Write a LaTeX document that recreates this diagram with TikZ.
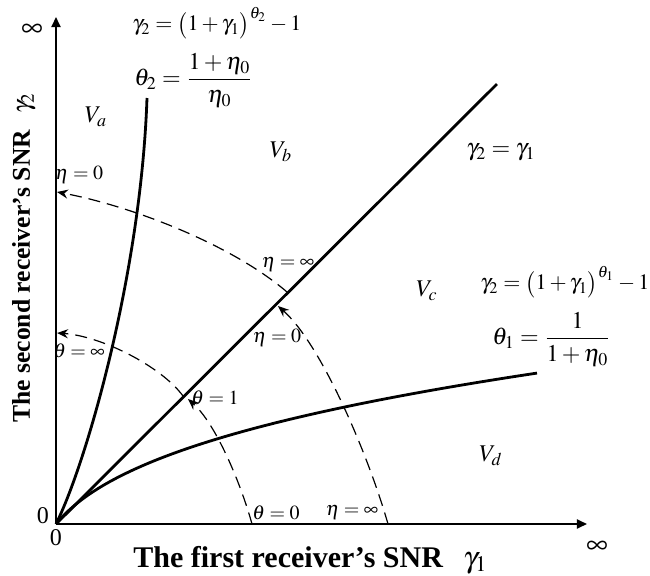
\documentclass[tikz,border=0pt]{standalone}
\usepackage{amsmath}
\usepackage{mathptmx}
\usepackage[no-math]{fontspec}
\setmainfont{Liberation Serif}
\usetikzlibrary{arrows.meta, positioning, calc}

\begin{document}
\begin{tikzpicture}[
    x=0.5pt, y=0.5pt,
    every node/.style={inner sep=1pt},
    axis/.style={line width=0.9pt, -{Triangle[length=5pt,width=4.5pt]}},
    bound/.style={line width=1.4pt},
    arc/.style={line width=0.6pt, dash pattern=on 6pt off 3.5pt, -{Stealth[length=5.5pt,width=4.5pt]}},
    region/.style={font=\fontsize{12}{14}\selectfont},
    eqn/.style={font=\fontsize{12}{14}\selectfont},
    powereq/.style={font=\fontsize{11}{13}\selectfont, inner sep=0pt},
    tag/.style={font=\fontsize{10}{12}\selectfont},
    inf/.style={font=\fontsize{15}{17}\selectfont},
    xlabel/.style={font=\bfseries\fontsize{15}{18}\selectfont},
    ylabel/.style={font=\bfseries\fontsize{12.8}{15}\selectfont}
  ]
  \useasboundingbox (-56,-51) rectangle (594,524);

  % axes
  \coordinate (o) at (0,0);
  \coordinate (xend) at (531,0);
  \coordinate (yend) at (0,507);
  \draw[axis] (o) -- (xend);
  \draw[axis] (o) -- (yend);

  % region boundaries
  \coordinate (upper) at (91,426);
  \coordinate (diag) at (441,440);
  \draw[bound] (o) .. controls (30,60) and (85,250) .. (upper);
  \draw[bound] (o) -- (diag);
  \draw[bound] plot[domain=0:481, samples=80] (\x,{103*((1+\x/25)^0.3-1)});

  % eta arcs
  \coordinate (etaY) at (1,332);
  \coordinate (etaD) at (231,232);
  \coordinate (etaT) at (222,218);
  \coordinate (etaX) at (332,0);
  \draw[arc] (etaD) .. controls (175,280) and (75,318) .. (etaY);
  \draw[arc] (etaX) .. controls (312,70) and (265,180) .. (etaT);

  % theta arcs
  \coordinate (thY) at (1,191);
  \coordinate (thD) at (127,128);
  \coordinate (thT) at (132,125);
  \coordinate (thX) at (196,0);
  \draw[arc] (thD) .. controls (105,158) and (45,188) .. (thY);
  \draw[arc] (thX) .. controls (185,40) and (160,100) .. (thT);

  % regions
  \node[region] (va) at (40,407) {$V_a$};
  \node[region] (vb) at (225,372) {$V_b$};
  \node[region] (vc) at (371,233) {$V_c$};
  \node[region] (vd) at (435,68) {$V_d$};

  % boundary equations
  \node[powereq, anchor=west] (eqa) at (76,501) {$\gamma_2=\bigl(1+\gamma_1\bigr)^{\theta_2}-1$};
  \node[eqn, below=6pt of eqa.south west, anchor=north west] (eqb) {$\theta_2=\dfrac{1+\eta_0}{\eta_0}$};
  \node[eqn] (eqdiag) at (445,372) {$\gamma_2=\gamma_1$};
  \node[powereq, anchor=west] (eqc) at (424,242) {$\gamma_2=\bigl(1+\gamma_1\bigr)^{\theta_1}-1$};
  \node[eqn, below=6pt of eqc.south west, anchor=north west, xshift=5pt] (eqd) {$\theta_1=\dfrac{1}{1+\eta_0}$};

  % arc tags
  \node[tag] (tEtaY) at (23,349) {$\eta=0$};
  \node[tag] (tEtaD) at (232,260) {$\eta=\infty$};
  \node[tag] (tEtaT) at (221,186) {$\eta=0$};
  \node[tag] (tEtaX) at (296,12) {$\eta=\infty$};
  \node[tag] (tThY) at (23,173) {$\theta=\infty$};
  \node[tag] (tThT) at (159,126) {$\theta=1$};
  \node[tag] (tThX) at (220,11) {$\theta=0$};

  % axis ticks and labels
  \node[eqn] (zeroy) at (-13,8) {0};
  \node[eqn] (zerox) at (0,-14) {0};
  \node[inf] (infy) at (-24,494) {$\infty$};
  \node[inf] (infx) at (541,-23) {$\infty$};
  \node[xlabel, anchor=base west] (xlab) at (75,-43) {The first receiver's SNR\hspace{10pt}{\mdseries$\gamma_1$}};
  \node[ylabel, anchor=base west, rotate=90] (ylab) at (-26,99) {The second receiver's SNR\hspace{8pt}{\mdseries$\gamma_2$}};
\end{tikzpicture}
\end{document}
